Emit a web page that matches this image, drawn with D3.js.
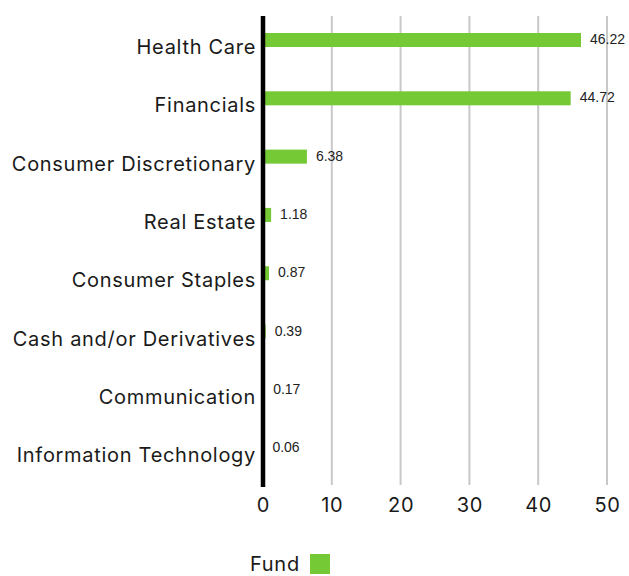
<!DOCTYPE html>
<html><head><meta charset="utf-8">
<script src="https://cdn.jsdelivr.net/npm/d3@7"></script>
<style>body{margin:0;background:#fff;} svg{display:block;}</style>
</head><body>
<svg id="chart" width="629" height="576"></svg>
<script>
const categories = ["Health Care","Financials","Consumer Discretionary","Real Estate","Consumer Staples","Cash and/or Derivatives","Communication","Information Technology"];
const fundValues = [46.22,44.72,6.38,1.18,0.87,0.39,0.17,0.06];
const xTicks = [0,10,20,30,40,50];
const seriesName = "Fund";

const svg = d3.select("#chart");
const green = "#74c935";
const mainFont = "Inter, Noto Sans, sans-serif";
const x = d3.scaleLinear().domain([0,50]).range([263,607]);
const y = d3.scaleBand().domain(categories).range([16,482.5]).padding(0);

// gridlines
svg.append("g").selectAll("line").data(xTicks.filter(d=>d>0)).join("line")
  .attr("x1",d=>x(d)).attr("x2",d=>x(d)).attr("y1",16).attr("y2",485)
  .attr("stroke","#c8c8c8").attr("stroke-width",2);

// bars
svg.append("g").selectAll("rect").data(categories).join("rect")
  .attr("x",x(0)).attr("y",d=>y(d)+17)
  .attr("width",(d,i)=>x(fundValues[i])-x(0)).attr("height",14)
  .attr("fill",green);

// value labels
svg.append("g").selectAll("text").data(categories).join("text")
  .attr("x",(d,i)=>x(fundValues[i])+9).attr("y",d=>y(d)+28)
  .attr("font-family","Liberation Sans, Arial, sans-serif").attr("font-size",14)
  .attr("fill","#222").text((d,i)=>fundValues[i].toFixed(2));

// category labels
svg.append("g").selectAll("text").data(categories).join("text")
  .attr("x",256).attr("y",d=>y(d)+y.bandwidth()/2+9)
  .attr("text-anchor","end")
  .attr("font-family",mainFont).attr("font-size",20).attr("letter-spacing",0.7)
  .attr("fill","#1a1a1a").text(d=>d);

// axis line
svg.append("line").attr("x1",x(0)).attr("x2",x(0)).attr("y1",16).attr("y2",487)
  .attr("stroke","#000").attr("stroke-width",4.5);

// x tick labels
const xAxis = d3.axisBottom(x).tickValues(xTicks).tickSize(0).tickPadding(0);
const gx = svg.append("g").attr("transform","translate(0,492)").call(xAxis);
gx.select(".domain").remove();
gx.selectAll("text").attr("font-family",mainFont).attr("font-size",20).attr("letter-spacing",0.7)
  .attr("fill","#1a1a1a").attr("dy","0").attr("y",20);

// legend
svg.append("text").attr("x",250).attr("y",571).attr("font-family",mainFont)
  .attr("font-size",20).attr("letter-spacing",0.7).attr("fill","#1a1a1a").text(seriesName);
svg.append("rect").attr("x",310).attr("y",554).attr("width",20).attr("height",20).attr("fill",green);
</script>
</body></html>
